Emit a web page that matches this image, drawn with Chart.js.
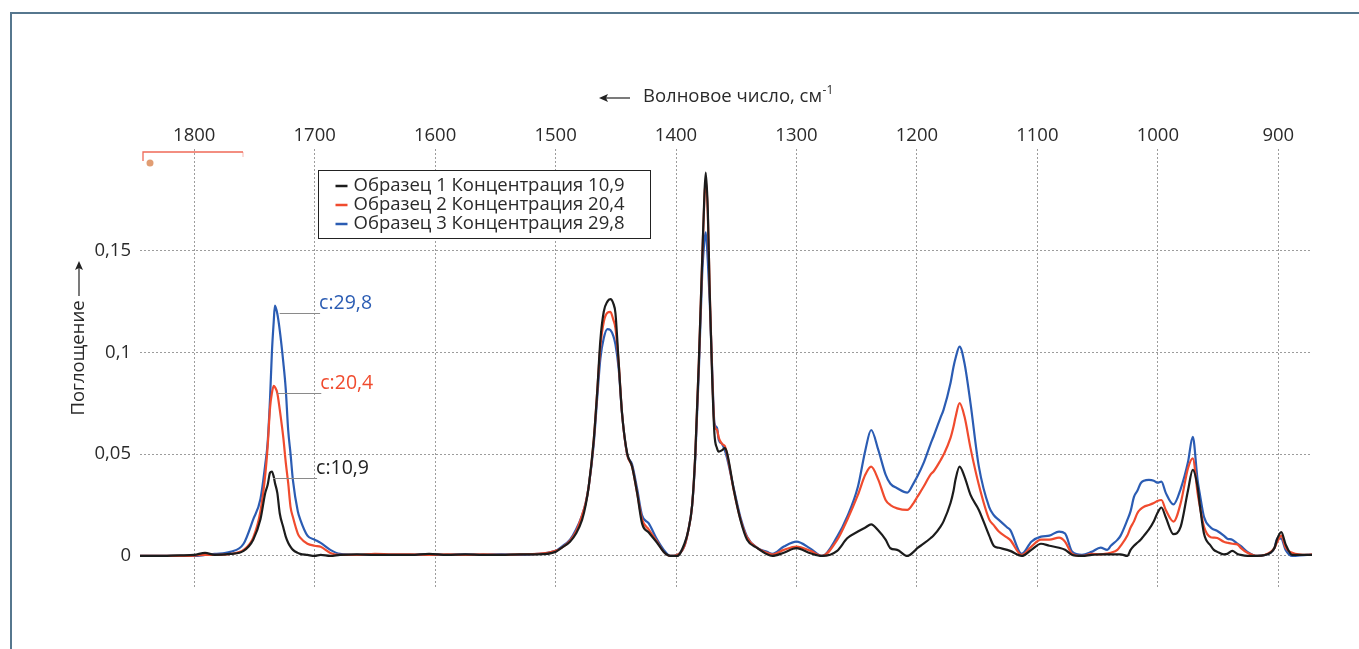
<!DOCTYPE html>
<html>
<head>
<meta charset="utf-8">
<script src="https://cdn.jsdelivr.net/npm/chart.js@4.4.1/dist/chart.umd.min.js"></script>
<style>
  html, body { margin: 0; padding: 0; background: #fff; }
  body { width: 1359px; height: 649px; position: relative; overflow: hidden; }
  #frame { position: absolute; left: 10px; top: 12px; width: 1400px; height: 700px;
           border-top: 2px solid #56778e; border-left: 2px solid #56778e; box-sizing: border-box; }
  #c { position: absolute; left: 0; top: 0; }
</style>
</head>
<body>
<div id="frame"></div>
<canvas id="c" width="1359" height="649"></canvas>
<script>
// ---- data ----
const wavenumbers = [
  1845,1830,1812,1800,1791,1783,1770,1759,1751,1745,
  1741,1739,1737,1735.5,1734,1733,1731,1729,1726,1724,
  1722,1720,1718,1714,1712,1706,1700,1695,1687,1679,
  1665,1650,1635,1620,1605,1590,1575,1560,1545,1530,
  1515,1500,1495,1488,1483,1478,1475,1472.5,1468.3,1465.5,
  1462.8,1460,1457,1454.5,1452,1450.3,1447.6,1444.8,1440.6,1436.5,
  1432.3,1428.2,1422.6,1415.7,1410.2,1404.7,1399,1393,1390,1386.6,
  1384,1381,1378.3,1376.4,1375.3,1373.6,1372,1370,1368.1,1366,
  1364.5,1361.7,1359.5,1357.6,1352,1346.5,1341,1332.7,1324.4,1320,
  1310.5,1300,1288.4,1278.7,1266.2,1257.9,1249,1242.8,1238,1232,
  1226,1222,1216.4,1208,1202.8,1199.7,1194.5,1188.7,1186.2,1180.4,
  1177.9,1172.1,1169.6,1168,1164.6,1160.5,1155.5,1148.6,1140,1136.1,
  1132,1125,1122.6,1113,1105,1097,1090,1082,1077,1071,
  1063,1055,1047.5,1042,1039,1033.6,1030.9,1025.3,1022.6,1019.8,
  1017,1014.3,1011.5,1007.4,1003.3,1000.4,997,993.4,987,981,
  975,971,967,965,961.7,956.1,953.5,950.6,945.2,942.3,
  938.2,933.9,931.2,925.6,917.3,906.3,903.1,900.8,897.5,893.9,
  888.4,876,872
];
const sample1 = [ // Образец 1, концентрация 10,9
  0,0,0.0003,0.0005,0.0015,0.0005,0.001,0.0025,0.008,0.018,
  0.031,0.035,0.041,0.0415,0.039,0.036,0.031,0.021,0.014,0.0095,
  0.0065,0.0045,0.003,0.0015,0.001,0.0005,0,0.0005,0,0.0005,
  0.0008,0.0005,0.0005,0.0005,0.001,0.0005,0.0008,0.0005,0.0005,0.0008,
  0.0008,0.002,0.004,0.007,0.011,0.0177,0.025,0.034,0.057,0.080,
  0.106,0.120,0.125,0.1262,0.124,0.1194,0.095,0.070,0.0506,0.044,
  0.031,0.016,0.0115,0.0065,0.002,0,0,0.006,0.012,0.025,
  0.050,0.096,0.145,0.178,0.1884,0.170,0.129,0.088,0.060,0.053,
  0.0513,0.052,0.053,0.0506,0.0324,0.0177,0.008,0.004,0.0008,0,
  0.0016,0.0038,0.0013,0,0.0025,0.0087,0.012,0.014,0.0155,0.0125,
  0.008,0.0038,0.003,0,0.002,0.0038,0.006,0.0087,0.010,0.0144,
  0.017,0.026,0.032,0.0374,0.0439,0.039,0.030,0.0226,0.010,0.0049,
  0.004,0.003,0.0025,0,0.003,0.006,0.005,0.004,0.003,0.0005,
  0,0.0005,0.0008,0.0008,0.0008,0.0008,0.0008,0,0.003,0.005,
  0.0065,0.0079,0.010,0.013,0.017,0.021,0.0238,0.019,0.0107,0.0144,
  0.032,0.0423,0.034,0.0245,0.011,0.005,0.003,0.002,0.0008,0.001,
  0.0025,0.001,0.0005,0,0,0.0016,0.004,0.0085,0.0117,0.0057,
  0.0005,0.0005,0.0005
];
const sample2 = [ // Образец 2, концентрация 20,4
  0,0,0,0.0002,0.0005,0.0005,0.001,0.003,0.009,0.022,
  0.040,0.054,0.073,0.080,0.0836,0.083,0.080,0.072,0.058,0.046,
  0.036,0.024,0.019,0.011,0.009,0.006,0.005,0.0045,0.0015,0.0005,
  0.0005,0.001,0.0008,0.0008,0.0005,0.0008,0.0005,0.0008,0.0005,0.0008,
  0.001,0.0025,0.004,0.0075,0.012,0.020,0.026,0.034,0.057,0.080,
  0.103,0.115,0.1195,0.120,0.116,0.112,0.095,0.070,0.050,0.044,
  0.031,0.018,0.013,0.007,0.002,0,0.0005,0.005,0.012,0.025,
  0.050,0.096,0.145,0.176,0.185,0.168,0.130,0.090,0.064,0.062,
  0.058,0.055,0.054,0.050,0.032,0.018,0.009,0.004,0.0015,0.0007,
  0.003,0.0046,0.0025,0,0.0079,0.0177,0.030,0.040,0.0439,0.0374,
  0.0275,0.025,0.0234,0.0226,0.026,0.029,0.034,0.040,0.0415,0.047,
  0.0497,0.058,0.0636,0.068,0.0751,0.0685,0.053,0.035,0.018,0.015,
  0.012,0.009,0.0079,0.0005,0.0046,0.008,0.008,0.009,0.007,0.001,
  0,0.001,0.0008,0.0012,0.0016,0.003,0.005,0.010,0.014,0.017,
  0.021,0.023,0.0242,0.025,0.026,0.027,0.0275,0.0226,0.0169,0.026,
  0.043,0.048,0.031,0.024,0.0144,0.0092,0.009,0.0088,0.007,0.0065,
  0.006,0.0057,0.004,0.0016,0,0.002,0.004,0.007,0.010,0.004,
  0.0016,0.0005,0.0008
];
const sample3 = [ // Образец 3, концентрация 29,8
  0,0,0,0,0.0005,0.001,0.002,0.006,0.018,0.028,
  0.045,0.056,0.078,0.100,0.115,0.123,0.119,0.111,0.095,0.082,
  0.062,0.050,0.037,0.022,0.018,0.010,0.008,0.0064,0.003,0.001,
  0.0005,0.0005,0.0005,0.0005,0.0008,0.0005,0.0008,0.0005,0.0008,0.0005,
  0.001,0.0025,0.0045,0.008,0.013,0.020,0.026,0.034,0.055,0.077,
  0.097,0.107,0.1115,0.111,0.108,0.104,0.092,0.070,0.050,0.045,
  0.033,0.020,0.016,0.008,0.003,0,0.0005,0.005,0.012,0.025,
  0.048,0.092,0.138,0.155,0.159,0.145,0.125,0.092,0.0654,0.063,
  0.057,0.055,0.052,0.048,0.033,0.019,0.0095,0.004,0.002,0.001,
  0.0046,0.007,0.0036,0,0.0095,0.0193,0.034,0.052,0.0619,0.052,
  0.040,0.0355,0.0333,0.0311,0.0357,0.039,0.0456,0.055,0.0587,0.068,
  0.0718,0.085,0.093,0.097,0.1029,0.0947,0.075,0.044,0.024,0.020,
  0.0177,0.014,0.0128,0.001,0.007,0.0095,0.010,0.012,0.011,0.002,
  0.0005,0.002,0.0041,0.003,0.005,0.0079,0.010,0.0177,0.022,0.029,
  0.032,0.0357,0.037,0.0374,0.037,0.036,0.0365,0.031,0.0253,0.033,
  0.046,0.0585,0.0374,0.030,0.0193,0.014,0.013,0.0123,0.010,0.0085,
  0.008,0.006,0.0049,0.002,0,0.0016,0.004,0.0087,0.0085,0.003,
  0,0.0005,0.0005
];
const seriesLabels = [
  'Образец 1 Концентрация 10,9',
  'Образец 2 Концентрация 20,4',
  'Образец 3 Концентрация 29,8'
];
const xTicks = [1800, 1700, 1600, 1500, 1400, 1300, 1200, 1100, 1000, 900];
const yTicks = [0, 0.05, 0.1, 0.15];
const yTickLabels = ['0', '0,05', '0,1', '0,15'];
const xTitle = 'Волновое число, см';
const xTitleSup = '-1';
const yTitle = 'Поглощение';
// peak annotations: label, level, leader line from/to (wavenumber)
const annLabels = ['c:29,8', 'c:20,4', 'c:10,9'];
const annValues = [0.1195, 0.0802, 0.0383];
const annFrom = [1729, 1731, 1734.5];
const annTo = [1695.5, 1694.5, 1698];

// ---- styles ----
const FONT = "'Open Sans', 'DejaVu Sans', sans-serif";
const TXT = 18.5;
const colors = ['#1c1c1c', '#f04b2e', '#2b5cb3'];
const annColors = ['#2b5cb3', '#f04b2e', '#222222'];

const toPts = arr => wavenumbers.map((w, i) => ({ x: w, y: arr[i] }));

const decorPlugin = {
  id: 'decor',
  afterDraw(chart) {
    const ctx = chart.ctx;
    const ca = chart.chartArea;
    const xs = chart.scales.x, ys = chart.scales.y;
    ctx.save();

    // red bracket at the top-left corner of the plot
    ctx.strokeStyle = '#ef6a58';
    ctx.lineWidth = 1.3;
    ctx.beginPath();
    ctx.moveTo(ca.left + 3, ca.top + 12);
    ctx.lineTo(ca.left + 3, ca.top + 3);
    ctx.lineTo(ca.left + 103, ca.top + 3);
    ctx.stroke();
    ctx.strokeStyle = 'rgba(239,106,88,0.35)';
    ctx.beginPath();
    ctx.moveTo(ca.left + 103, ca.top + 3);
    ctx.lineTo(ca.left + 103, ca.top + 8);
    ctx.stroke();
    ctx.fillStyle = 'rgba(220,140,90,0.85)';
    ctx.beginPath();
    ctx.arc(ca.left + 10, ca.top + 14, 3.5, 0, Math.PI * 2);
    ctx.fill();

    // x title with arrow (top)
    const cx = (ca.left + ca.right) / 2;
    const ty = 98;
    ctx.strokeStyle = '#222';
    ctx.fillStyle = '#222';
    ctx.lineWidth = 1.2;
    ctx.beginPath();
    ctx.moveTo(cx - 124, ty);
    ctx.lineTo(cx - 96, ty);
    ctx.stroke();
    ctx.beginPath();
    ctx.moveTo(cx - 127, ty);
    ctx.lineTo(cx - 118, ty - 4);
    ctx.lineTo(cx - 120, ty);
    ctx.lineTo(cx - 118, ty + 4);
    ctx.closePath();
    ctx.fill();
    ctx.font = TXT + 'px ' + FONT;
    ctx.textAlign = 'left';
    ctx.textBaseline = 'middle';
    ctx.fillStyle = '#2a2a2a';
    ctx.fillText(xTitle, cx - 83, ty - 1);
    const tw = ctx.measureText(xTitle).width;
    ctx.font = '12px ' + FONT;
    ctx.fillText(xTitleSup, cx - 83 + tw + 0.5, ty - 7);

    // y title with arrow (left)
    const yx = 79;
    ctx.save();
    ctx.translate(yx, 358);
    ctx.rotate(-Math.PI / 2);
    ctx.font = TXT + 'px ' + FONT;
    ctx.textAlign = 'center';
    ctx.textBaseline = 'middle';
    ctx.fillText(yTitle, 0, 0);
    ctx.restore();
    ctx.strokeStyle = '#222';
    ctx.beginPath();
    ctx.moveTo(yx, 296);
    ctx.lineTo(yx, 266);
    ctx.stroke();
    ctx.fillStyle = '#222';
    ctx.beginPath();
    ctx.moveTo(yx, 261);
    ctx.lineTo(yx - 4, 270);
    ctx.lineTo(yx, 268);
    ctx.lineTo(yx + 4, 270);
    ctx.closePath();
    ctx.fill();

    // peak annotations
    annLabels.forEach((t, i) => {
      const yy = Math.round(ys.getPixelForValue(annValues[i])) + 0.5;
      const x0 = xs.getPixelForValue(annFrom[i]);
      const x1 = xs.getPixelForValue(annTo[i]);
      ctx.strokeStyle = '#8a8a8a';
      ctx.lineWidth = 1;
      ctx.beginPath();
      ctx.moveTo(x0, yy);
      ctx.lineTo(x1, yy);
      ctx.stroke();
      ctx.font = '19.5px ' + FONT;
      ctx.textAlign = 'left';
      ctx.textBaseline = 'middle';
      ctx.fillStyle = annColors[i];
      ctx.fillText(t, x1 - 1, yy - 10);
    });

    // legend box
    const lx = ca.left + 178.5, ly = ca.top + 21.5, lw = 332, lh = 68;
    ctx.fillStyle = '#fff';
    ctx.fillRect(lx, ly, lw, lh);
    ctx.strokeStyle = '#222';
    ctx.lineWidth = 1;
    ctx.strokeRect(lx, ly, lw, lh);
    chart.data.datasets.forEach((ds, i) => {
      const ry = ly + 15.5 + i * 19;
      ctx.strokeStyle = ds.borderColor;
      ctx.lineWidth = 2.5;
      ctx.beginPath();
      ctx.moveTo(lx + 17, ry);
      ctx.lineTo(lx + 29, ry);
      ctx.stroke();
      ctx.font = TXT + 'px ' + FONT;
      ctx.fillStyle = '#2a2a2a';
      ctx.textAlign = 'left';
      ctx.textBaseline = 'middle';
      ctx.fillText(ds.label, lx + 35, ry);
    });
    ctx.restore();
  }
};

Chart.defaults.font.family = FONT;

new Chart(document.getElementById('c'), {
  type: 'line',
  data: {
    datasets: [
      { label: seriesLabels[0], data: toPts(sample1), borderColor: colors[0] },
      { label: seriesLabels[1], data: toPts(sample2), borderColor: colors[1] },
      { label: seriesLabels[2], data: toPts(sample3), borderColor: colors[2] }
    ].map(d => Object.assign(d, {
      borderWidth: 2.2, pointRadius: 0, fill: false,
      cubicInterpolationMode: 'monotone'
    }))
  },
  options: {
    responsive: false,
    animation: false,
    events: [],
    layout: { padding: { left: 0, top: 0, right: 47, bottom: 60.5 } },
    plugins: { legend: { display: false }, tooltip: { enabled: false } },
    scales: {
      x: {
        type: 'linear',
        position: 'top',
        reverse: true,
        min: 872,
        max: 1845,
        afterBuildTicks: s => { s.ticks = xTicks.map(v => ({ value: v })); },
        afterFit: s => { s.height = 149; },
        ticks: {
          padding: 2,
          color: '#2a2a2a',
          font: { size: TXT },
          maxRotation: 0,
          autoSkip: false,
          callback: v => String(v)
        },
        grid: { color: '#9c9c9c', lineWidth: 1, drawTicks: false },
        border: { display: false, dash: [2, 2] }
      },
      y: {
        type: 'linear',
        min: -0.016,
        max: 0.2,
        afterBuildTicks: s => { s.ticks = yTicks.map(v => ({ value: v })); },
        afterFit: s => { s.width = 140; },
        ticks: {
          padding: 9,
          color: '#2a2a2a',
          font: { size: TXT },
          autoSkip: false,
          callback: (v) => { const i = yTicks.findIndex(t => Math.abs(t - v) < 1e-9); return i >= 0 ? yTickLabels[i] : ''; }
        },
        grid: { color: '#9c9c9c', lineWidth: 1, drawTicks: false },
        border: { display: false, dash: [2, 2] }
      }
    }
  },
  plugins: [decorPlugin]
});
</script>
</body>
</html>
